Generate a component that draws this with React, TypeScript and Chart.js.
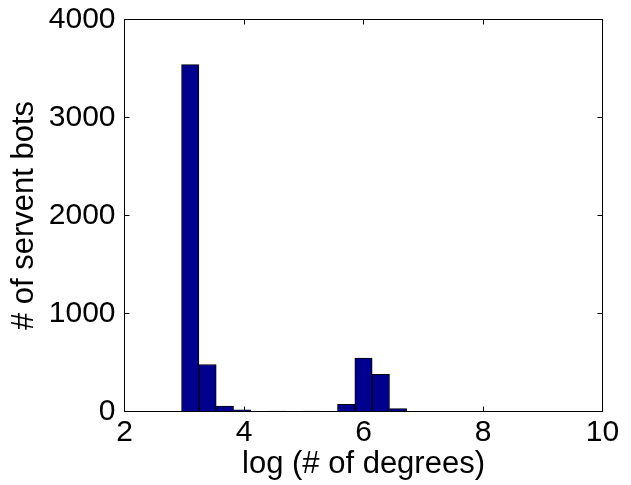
import React, { useEffect, useRef } from "react";
import { Chart, registerables } from "chart.js";

Chart.register(...registerables);

// Histogram bin centres (log # of degrees) and counts
const binCenters = [3.10, 3.39, 3.68, 3.97, 4.26, 4.55, 4.84, 5.13, 5.42, 5.71, 6.0, 6.29, 6.58];
const counts = [3540, 480, 56, 18, 3, 5, 2, 4, 3, 74, 545, 380, 30];
const xTicks = [2, 4, 6, 8, 10];
const yTicks = [0, 1000, 2000, 3000, 4000];
const xLabel = "log (# of degrees)";
const yLabel = "# of servent bots";

const FONT = "'Liberation Sans', Arial, Helvetica, sans-serif";

const axesPlugin = {
  id: "matlabAxes",
  beforeDatasetsDraw(chart: any) {
    const { ctx, chartArea } = chart;
    const xs = chart.scales.x;
    const ys = chart.scales.y;
    const L = 5;
    ctx.save();
    ctx.strokeStyle = "#000";
    ctx.lineWidth = 1;
    ctx.beginPath();
    xTicks.forEach((v) => {
      const p = Math.floor(xs.getPixelForValue(v)) + 0.5;
      ctx.moveTo(p, chartArea.bottom);
      ctx.lineTo(p, chartArea.bottom - L);
      ctx.moveTo(p, chartArea.top);
      ctx.lineTo(p, chartArea.top + L);
    });
    yTicks.forEach((v) => {
      const p = Math.floor(ys.getPixelForValue(v)) + 0.5;
      ctx.moveTo(chartArea.left, p);
      ctx.lineTo(chartArea.left + L, p);
      ctx.moveTo(chartArea.right, p);
      ctx.lineTo(chartArea.right - L, p);
    });
    ctx.stroke();
    ctx.restore();
  },
  afterDatasetsDraw(chart: any) {
    const { ctx, chartArea } = chart;
    ctx.save();
    ctx.strokeStyle = "#000";
    ctx.lineWidth = 1;
    ctx.strokeRect(
      chartArea.left,
      chartArea.top,
      chartArea.right - chartArea.left,
      chartArea.bottom - chartArea.top
    );
    ctx.restore();
  },
};

export default function App() {
  const ref = useRef<HTMLCanvasElement>(null);

  useEffect(() => {
    if (!ref.current) return;
    const chart = new Chart(ref.current, {
      type: "bar",
      data: {
        datasets: [
          {
            data: binCenters.map((x, i) => ({ x, y: counts[i] })),
            backgroundColor: "#00008F",
            borderColor: "#000000",
            borderWidth: 1,
            borderSkipped: "start",
            barPercentage: 1,
            categoryPercentage: 1,
          },
        ],
      },
      options: {
        animation: false,
        responsive: false,
        devicePixelRatio: 1,
        layout: { padding: { top: 19.5, right: 28.5, bottom: 0, left: 0 } },
        plugins: {
          legend: { display: false },
          tooltip: { enabled: false },
        },
        scales: {
          x: {
            type: "linear",
            min: 2,
            max: 10,
            offset: false,
            afterFit: (s: any) => {
              s.height = 73.5;
              s.paddingLeft = 0;
              s.paddingRight = 0;
            },
            afterBuildTicks: (s: any) => {
              s.ticks = xTicks.map((v) => ({ value: v }));
            },
            grid: { display: false, drawTicks: false, offset: false },
            border: { display: false },
            ticks: {
              autoSkip: false,
              maxRotation: 0,
              padding: 3,
              color: "#000",
              font: { family: FONT, size: 30 },
              callback: (v: any) => String(v),
            },
            title: {
              display: true,
              text: xLabel,
              color: "#000",
              font: { family: FONT, size: 31 },
              padding: { top: 0, bottom: 2 },
            },
          },
          y: {
            type: "linear",
            min: 0,
            max: 4000,
            afterFit: (s: any) => {
              s.width = 124.5;
              s.paddingTop = 0;
              s.paddingBottom = 0;
            },
            afterBuildTicks: (s: any) => {
              s.ticks = yTicks.map((v) => ({ value: v }));
            },
            grid: { display: false, drawTicks: false },
            border: { display: false },
            ticks: {
              padding: 9,
              color: "#000",
              font: { family: FONT, size: 30 },
              callback: (v: any) => String(v),
            },
            title: {
              display: true,
              text: yLabel,
              color: "#000",
              font: { family: FONT, size: 31 },
              padding: { top: 6, bottom: 0 },
            },
          },
        },
      },
      plugins: [axesPlugin],
    });
    return () => chart.destroy();
  }, []);

  return (
    <div style={{ position: "absolute", left: 0, top: 0, width: 631, height: 485, background: "#fff" }}>
      <canvas ref={ref} width={631} height={485} style={{ display: "block", width: 631, height: 485 }} />
    </div>
  );
}
